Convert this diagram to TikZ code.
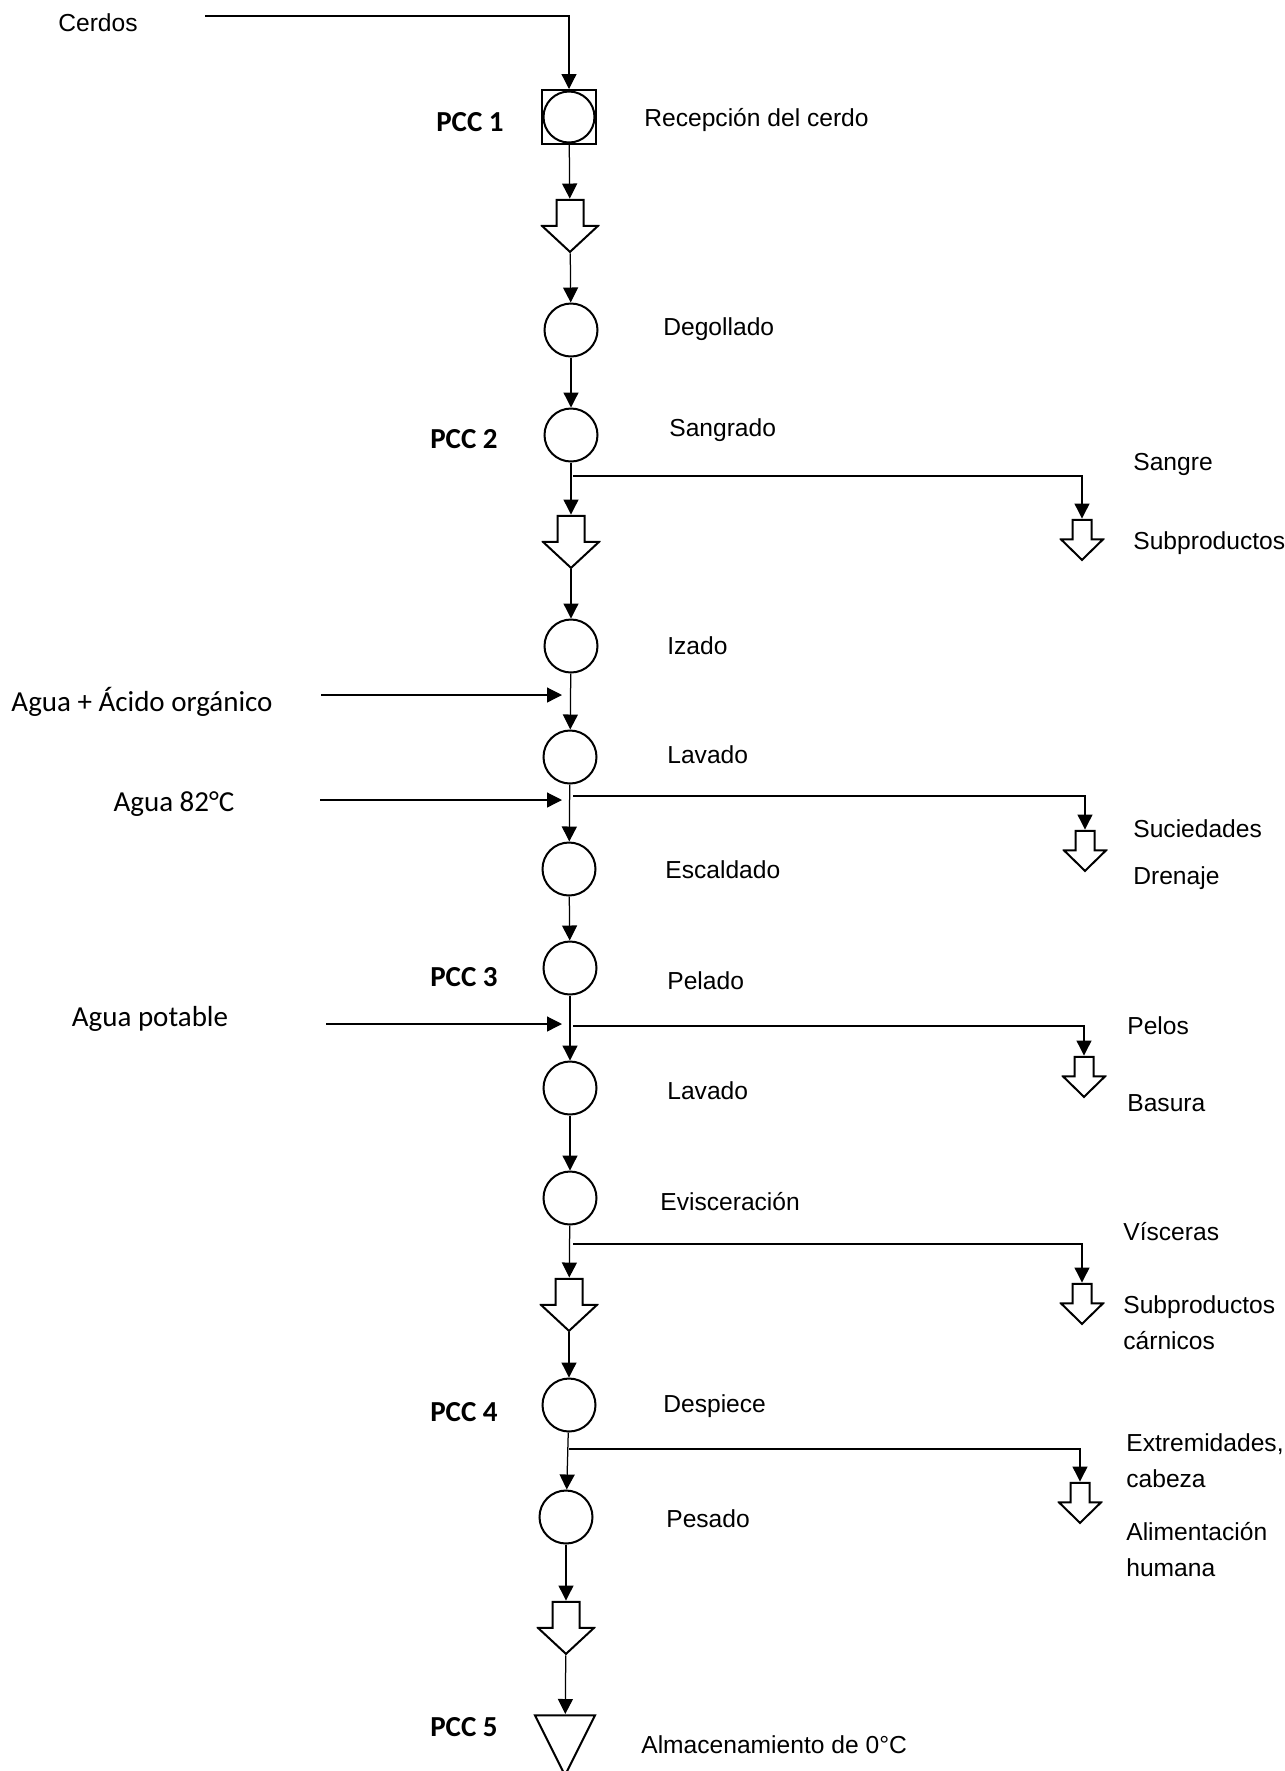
\documentclass[tikz,border=0pt]{standalone}
\usepackage{fontspec}
\setmainfont{Liberation Sans}
\newfontfamily\calibri{Carlito}
\usetikzlibrary{arrows.meta,positioning}

\tikzset{
  hollow/.style n args={4}{inner sep=0pt,
    minimum width=2*#1+0.6mm, minimum height=#3+#4+0.45mm,
    path picture={
      \draw[line width=0.4mm, line join=miter]
        ([shift={(-#2,-0.2mm)}]path picture bounding box.north)
        -- ++(0,-#3) -- ++({#2-#1},0) -- ++(#1,-#4) -- ++(#1,#4)
        -- ++({#2-#1},0) -- ++(0,#3) -- cycle;}},
  bigdown/.style={hollow={5.6mm}{2.7mm}{5.2mm}{5.2mm}},
  smalldown/.style={hollow={4.2mm}{1.9mm}{3.9mm}{4.1mm}},
  tri/.style={inner sep=0pt, minimum width=13mm, minimum height=12.4mm,
    path picture={
      \draw[line width=0.4mm, line join=miter]
        ([shift={(-6mm,-0.2mm)}]path picture bounding box.north)
        -- ++(12mm,0) -- ([yshift=0.2mm]path picture bounding box.south) -- cycle;}}
}

\begin{document}
\begin{tikzpicture}[x=0.2mm, y=-0.2mm,
  every node/.style={inner sep=0pt},
  proc/.style={draw, circle, line width=0.4mm, minimum size=10.6mm},
  chk/.style={draw, rectangle, line width=0.4mm, minimum size=10.8mm},
  flow/.style={line width=0.25mm, -{Triangle[length=3mm,width=3mm]}},
  lbl/.style={anchor=west, align=left, font=\fontsize{14}{20.5}\selectfont},
  pcc/.style={font=\calibri\bfseries\fontsize{16.5}{20}\selectfont},
  feed/.style={font=\calibri\fontsize{16.5}{20}\selectfont}]
\useasboundingbox (0,0) rectangle (1285,1771);
\fill[white] (0,0) rectangle (1285,1771);

\node (cerdos) at (98,23) [lbl, anchor=center] {Cerdos};
\coordinate (cerdos0) at (205,16);
\node (sq1) at (569,117) [chk] {};
\node (c1) at (569,117) [proc, minimum size=10.2mm] {};
\node (pcc1) at (470,122) [pcc] {PCC 1};
\node (t1) at (644,120) [lbl] {Recepción del cerdo};
\node (h1) at (570,226) [bigdown] {};
\node (c2) at (571,330) [proc] {};
\node (t2) at (663,329) [lbl] {Degollado};
\node (c3) at (571,435) [proc] {};
\node (pcc2) at (464,439) [pcc] {PCC 2};
\node (t3) at (669,430) [lbl] {Sangrado};
\coordinate (br1) at (573,476);
\node (d1) at (1082,540) [smalldown] {};
\node (o1a) at (1133,464) [lbl] {Sangre};
\node (o1b) at (1133,543) [lbl] {Subproductos};
\node (h2) at (571,542) [bigdown] {};
\node (c4) at (571,646) [proc] {};
\node (t4) at (667,646) [lbl] {Izado};
\node (f1) at (142,702) [feed] {Agua + Ácido orgánico};
\coordinate (f1s) at (321,695);
\coordinate (f1e) at (562,695);
\node (c5) at (570,757) [proc] {};
\node (t5) at (667,755) [lbl] {Lavado};
\node (f2) at (174,804) [feed] {Agua 82°C};
\coordinate (f2s) at (320,800);
\coordinate (f2e) at (562,800);
\coordinate (br2) at (573,796);
\node (d2) at (1085,851) [smalldown] {};
\node (o2a) at (1133,829) [lbl] {Suciedades};
\node (o2b) at (1133,878) [lbl] {Drenaje};
\node (c6) at (569,869) [proc] {};
\node (t6) at (665,870) [lbl] {Escaldado};
\node (c7) at (570,968) [proc] {};
\node (pcc3) at (464,977) [pcc] {PCC 3};
\node (t7) at (667,981) [lbl] {Pelado};
\node (f3) at (150,1019) [feed] {Agua potable};
\coordinate (f3s) at (326,1024);
\coordinate (f3e) at (562,1024);
\coordinate (br3) at (573,1026);
\node (d3) at (1084,1077) [smalldown] {};
\node (o3a) at (1127,1026) [lbl] {Pelos};
\node (o3b) at (1127,1103) [lbl] {Basura};
\node (c8) at (570,1088) [proc] {};
\node (t8) at (667,1091) [lbl] {Lavado};
\node (c9) at (570,1198) [proc] {};
\node (t9) at (660,1202) [lbl] {Evisceración};
\coordinate (br4) at (573,1244);
\node (d4) at (1082,1304) [smalldown] {};
\node (o4a) at (1123,1232) [lbl] {Vísceras};
\node (o4b) at (1123,1323) [lbl] {Subproductos\\cárnicos};
\node (h3) at (569,1305) [bigdown] {};
\node (c10) at (569,1405) [proc] {};
\node (pcc4) at (464,1412) [pcc] {PCC 4};
\node (t10) at (663,1406) [lbl] {Despiece};
\coordinate (br5) at (569,1449);
\node (d5) at (1080,1503) [smalldown] {};
\node (o5a) at (1126,1461) [lbl] {Extremidades,\\cabeza};
\node (o5b) at (1126,1550) [lbl] {Alimentación\\humana};
\node (c11) at (566,1517) [proc] {};
\node (t11) at (666,1519) [lbl] {Pesado};
\node (h4) at (566,1628) [bigdown] {};
\node (st) at (565,1714) [tri, anchor=north] {};
\node (pcc5) at (464,1727) [pcc] {PCC 5};
\node (t12) at (641,1745) [lbl] {Almacenamiento de 0°C};

\draw[flow] (cerdos0) -| (sq1);
\draw[flow] (sq1) -- (h1);
\draw[flow] (h1) -- (c2);
\draw[flow] (c2) -- (c3);
\draw[flow] (c3) -- (h2);
\draw[flow] (h2) -- (c4);
\draw[flow] (c4) -- (c5);
\draw[flow] (c5) -- (c6);
\draw[flow] (c6) -- (c7);
\draw[flow] (c7) -- (c8);
\draw[flow] (c8) -- (c9);
\draw[flow] (c9) -- (h3);
\draw[flow] (h3) -- (c10);
\draw[flow] (c10) -- (c11);
\draw[flow] (c11) -- (h4);
\draw[flow] (h4) -- (st);

\draw[flow] (f1s) -- (f1e);
\draw[flow] (f2s) -- (f2e);
\draw[flow] (f3s) -- (f3e);

\draw[flow] (br1) -| (d1);
\draw[flow] (br2) -| (d2);
\draw[flow] (br3) -| (d3);
\draw[flow] (br4) -| (d4);
\draw[flow] (br5) -| (d5);
\end{tikzpicture}
\end{document}
